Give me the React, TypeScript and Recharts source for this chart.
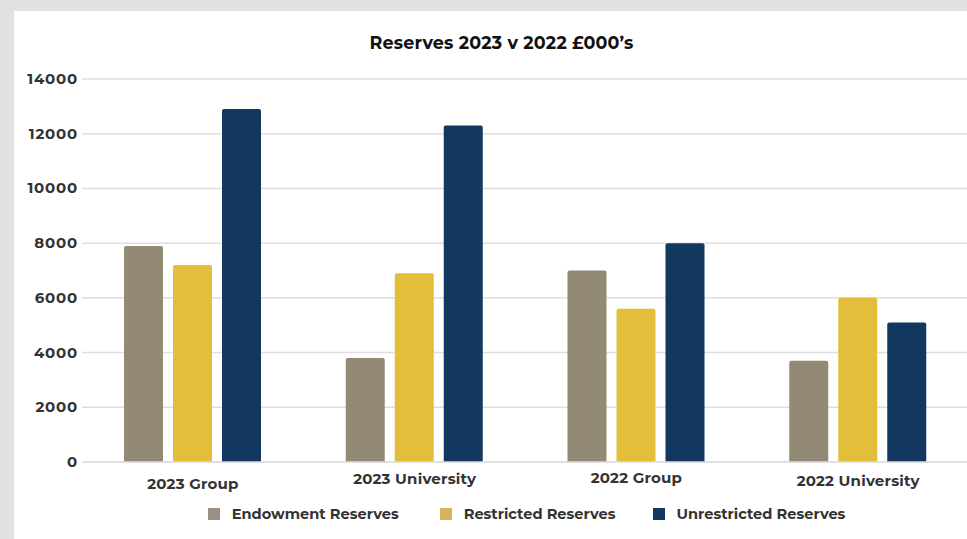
import React from "react";
import { BarChart, Bar, XAxis, YAxis, CartesianGrid, Legend } from "recharts";

const categories = ["2023 Group", "2023 University", "2022 Group", "2022 University"];
const endowment = [7900, 3800, 7000, 3700];
const restricted = [7200, 6900, 5600, 6000];
const unrestricted = [12900, 12300, 8000, 5100];
const yTicks = [0, 2000, 4000, 6000, 8000, 10000, 12000, 14000];

const seriesNames = ["Endowment Reserves", "Restricted Reserves", "Unrestricted Reserves"];
const seriesColors = ["#938a76", "#e2be3a", "#12385f"];
const legendColors = ["#9b9082", "#d6b45a", "#12385f"];

const data = categories.map((c, i) => ({
  name: c,
  endowment: endowment[i],
  restricted: restricted[i],
  unrestricted: unrestricted[i],
}));

const FONT = "Montserrat, 'Open Sans', 'DejaVu Sans', sans-serif";
const tickDy = [6, 1, 0, 3];

const XTick = (props: any) => {
  const { x, y, payload, index } = props;
  return (
    <text x={x} y={y} dy={13 + (tickDy[index] ?? 0)} textAnchor="middle" fill="#333" fontSize={15} fontWeight={700} fontFamily={FONT} letterSpacing={0.2}>
      {payload.value}
    </text>
  );
};

const YTick = (props: any) => {
  const { x, y, payload } = props;
  return (
    <text x={x} y={y} dx={6} dy={5} textAnchor="end" fill="#333" fontSize={15} fontWeight={700} fontFamily={FONT} letterSpacing={0.8}>
      {payload.value}
    </text>
  );
};

const LegendContent = () => (
  <div style={{ display: "flex", justifyContent: "center", alignItems: "center", height: 24, fontFamily: FONT, fontWeight: 700, fontSize: 14.6, color: "#333", paddingLeft: 84 }}>
    {seriesNames.map((n, i) => (
      <div key={n} style={{ display: "flex", alignItems: "center", marginRight: i === 0 ? 41 : i === 1 ? 37 : 0 }}>
        <span style={{ display: "inline-block", width: 12, height: 12, background: legendColors[i], marginRight: 12 }} />
        <span>{n}</span>
      </div>
    ))}
  </div>
);

export default function App() {
  return (
    <div style={{ position: "absolute", left: 0, top: 0, width: 967, height: 539, background: "#e1e1e1", overflow: "hidden" }}>
      <div style={{ position: "absolute", left: 14, top: 11, width: 953, height: 528, background: "#fff" }} />
      <div style={{ position: "absolute", left: 0, top: 32, width: 1003, textAlign: "center", fontFamily: FONT, fontWeight: 700, fontSize: 17.5, color: "#111", letterSpacing: 0.2 }}>
        Reserves 2023 v 2022 £000’s
      </div>
      <div style={{ position: "absolute", left: 0, top: 0 }}>
        <BarChart width={969} height={539} data={data} margin={{ top: 79, right: 0, left: 0, bottom: 13 }} barGap={10} barCategoryGap={0}>
          <CartesianGrid vertical={false} stroke="#dedede" strokeWidth={1.5} />
          <XAxis dataKey="name" axisLine={{ stroke: "#dedede", strokeWidth: 1.5 }} tickLine={false} tick={<XTick />} height={40} interval={0} />
          <YAxis domain={[0, 14000]} ticks={yTicks} width={82} axisLine={false} tickLine={false} tick={<YTick />} tickMargin={4} />
          <Legend verticalAlign="bottom" content={<LegendContent />} />
          <Bar dataKey="endowment" name={seriesNames[0]} fill={seriesColors[0]} barSize={39} radius={[2, 2, 0, 0]} isAnimationActive={false} />
          <Bar dataKey="restricted" name={seriesNames[1]} fill={seriesColors[1]} barSize={39} radius={[2, 2, 0, 0]} isAnimationActive={false} />
          <Bar dataKey="unrestricted" name={seriesNames[2]} fill={seriesColors[2]} barSize={39} radius={[2, 2, 0, 0]} isAnimationActive={false} />
        </BarChart>
      </div>
    </div>
  );
}
